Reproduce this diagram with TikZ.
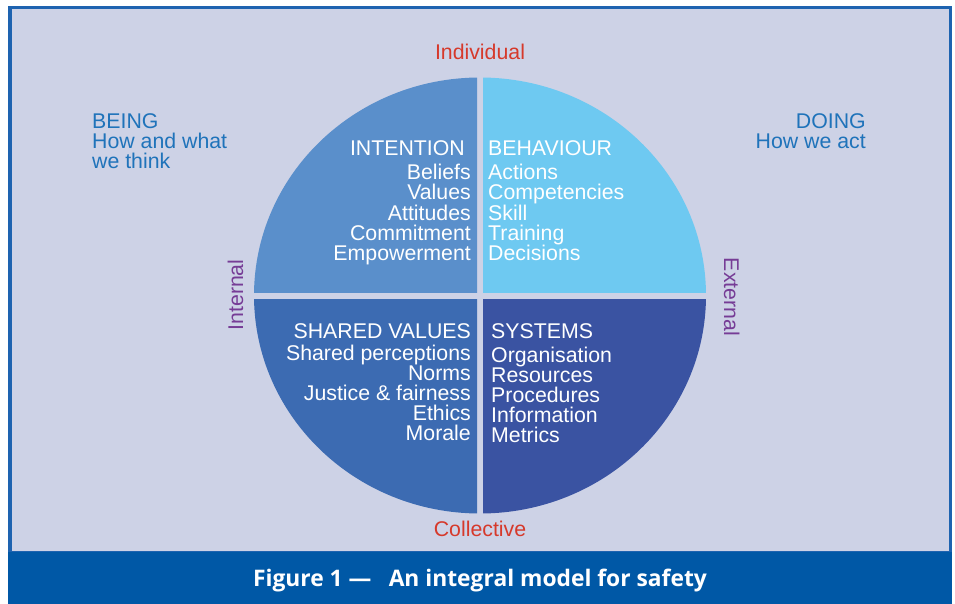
\documentclass[tikz,border=0pt]{standalone}
\usepackage{fontspec}
\setmainfont{Liberation Sans}
\newfontfamily\capfont{Open Sans}
\definecolor{bglav}{RGB}{205,210,230}
\definecolor{qtl}{RGB}{90,143,203}
\definecolor{qtr}{RGB}{110,201,241}
\definecolor{qbl}{RGB}{60,107,178}
\definecolor{qbr}{RGB}{58,83,162}
\definecolor{txtblue}{RGB}{31,115,186}
\definecolor{txtred}{RGB}{214,57,43}
\definecolor{txtpurple}{RGB}{118,60,150}
\definecolor{borderblue}{RGB}{30,99,176}
\definecolor{barblue}{RGB}{0,88,166}
\begin{document}
\begin{tikzpicture}[x=1pt,y=-1pt,
  lbl/.style={inner sep=0pt,font=\fontsize{21.3}{20}\selectfont},
  inq/.style={lbl,text=white},
  side/.style={lbl,text=txtblue,align=left},
  axisred/.style={lbl,text=txtred},
  axispurple/.style={lbl,text=txtpurple}]
\useasboundingbox (0,0) rectangle (955,604);
\fill[white] (0,0) rectangle (955,604);
\fill[bglav] (8,6) rectangle (952,553);
\draw[borderblue,line width=3.5] (9.75,7.75) rectangle (950.25,553);
\fill[barblue] (8,552) rectangle (952,604);
% quadrants
\begin{scope}\clip (0,0) rectangle (477,292);
\fill[qtl] (480,295.5) ellipse [x radius=226,y radius=218];\end{scope}
\begin{scope}\clip (483,0) rectangle (955,292);
\fill[qtr] (480,295.5) ellipse [x radius=226,y radius=218];\end{scope}
\begin{scope}\clip (0,299) rectangle (477,604);
\fill[qbl] (480,295.5) ellipse [x radius=226,y radius=218];\end{scope}
\begin{scope}\clip (483,299) rectangle (955,604);
\fill[qbr] (480,295.5) ellipse [x radius=226,y radius=218];\end{scope}
% axis labels
\node[axisred,anchor=base] (indiv) at (480,60) {Individual};
\node[axisred,anchor=base] (coll) at (480,536) {Collective};
\node[axispurple,anchor=base,rotate=90] (intl) at (243,295) {Internal};
\node[axispurple,anchor=base,rotate=-90] (extl) at (724,297) {External};
% side labels
\node[side,anchor=base west] (being1) at (92,129) {BEING};
\node[side,anchor=base west] (being2) at (92,149) {How and what};
\node[side,anchor=base west] (being3) at (92,169) {we think};
\node[side,anchor=base east] (doing1) at (866,129) {DOING};
\node[side,anchor=base east] (doing2) at (866,149) {How we act};
% intention
\node[inq,anchor=base east] (int0) at (465,156) {INTENTION};
\node[inq,anchor=base east] (int1) at (471,180) {Beliefs};
\node[inq,anchor=base east] (int2) at (471,200) {Values};
\node[inq,anchor=base east] (int3) at (471,220) {Attitudes};
\node[inq,anchor=base east] (int4) at (471,240) {Commitment};
\node[inq,anchor=base east] (int5) at (471,260) {Empowerment};
% behaviour
\node[inq,anchor=base west] (beh0) at (488,156) {BEHAVIOUR};
\node[inq,anchor=base west] (beh1) at (488,180) {Actions};
\node[inq,anchor=base west] (beh2) at (488,200) {Competencies};
\node[inq,anchor=base west] (beh3) at (488,220) {Skill};
\node[inq,anchor=base west] (beh4) at (488,240) {Training};
\node[inq,anchor=base west] (beh5) at (488,260) {Decisions};
% shared values
\node[inq,anchor=base east] (sv0) at (471,338) {SHARED VALUES};
\node[inq,anchor=base east] (sv1) at (471,360) {Shared perceptions};
\node[inq,anchor=base east] (sv2) at (471,380) {Norms};
\node[inq,anchor=base east] (sv3) at (471,400) {Justice \& fairness};
\node[inq,anchor=base east] (sv4) at (471,420) {Ethics};
\node[inq,anchor=base east] (sv5) at (471,440) {Morale};
% systems
\node[inq,anchor=base west] (sys0) at (491,338) {SYSTEMS};
\node[inq,anchor=base west] (sys1) at (491,362) {Organisation};
\node[inq,anchor=base west] (sys2) at (491,382) {Resources};
\node[inq,anchor=base west] (sys3) at (491,402) {Procedures};
\node[inq,anchor=base west] (sys4) at (491,422) {Information};
\node[inq,anchor=base west] (sys5) at (491,442) {Metrics};
% caption
\node[inner sep=0pt,anchor=base,text=white,font=\capfont\bfseries\fontsize{22.8}{26}\selectfont] (cap) at (480,586) {Figure 1 — \enspace An integral model for safety};
\end{tikzpicture}
\end{document}
